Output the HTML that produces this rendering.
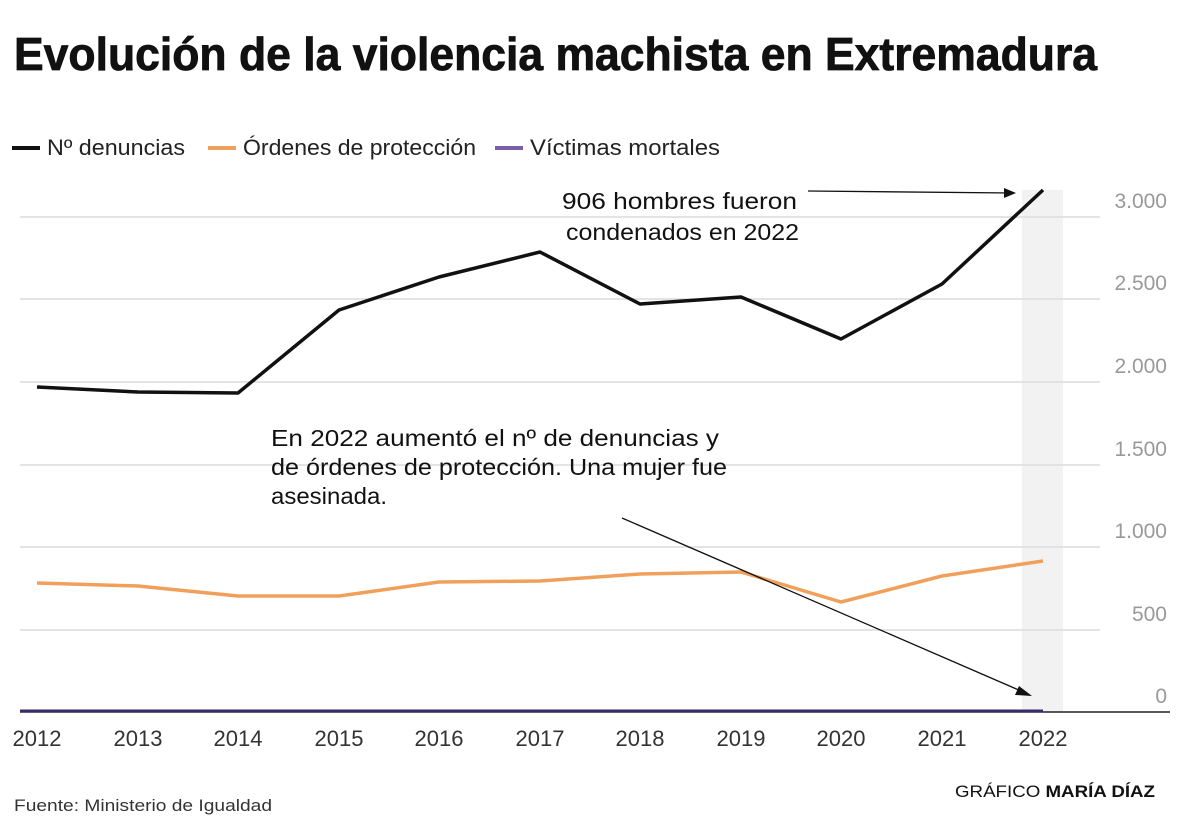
<!DOCTYPE html>
<html><head><meta charset="utf-8"><style>
html,body{margin:0;padding:0;background:#fff;}
svg{display:block;font-family:"Liberation Sans",sans-serif;}
</style></head><body>
<svg width="1200" height="840" viewBox="0 0 1200 840" xmlns="http://www.w3.org/2000/svg">
<rect width="1200" height="840" fill="#fff"/>
<text x="14" y="70" font-size="46" font-weight="bold" fill="#111" stroke="#111" stroke-width="0.8" textLength="1083" lengthAdjust="spacingAndGlyphs">Evolución de la violencia machista en Extremadura</text>
<!-- legend -->
<line x1="12" y1="148" x2="40" y2="148" stroke="#111" stroke-width="4"/>
<text x="47" y="155" font-size="22" fill="#222" textLength="138" lengthAdjust="spacingAndGlyphs">Nº denuncias</text>
<line x1="208" y1="148" x2="236" y2="148" stroke="#f0a05a" stroke-width="4"/>
<text x="243" y="155" font-size="22" fill="#222" textLength="233" lengthAdjust="spacingAndGlyphs">Órdenes de protección</text>
<line x1="495" y1="148" x2="523" y2="148" stroke="#7b5ea7" stroke-width="4"/>
<text x="530" y="155" font-size="22" fill="#222" textLength="190" lengthAdjust="spacingAndGlyphs">Víctimas mortales</text>
<!-- highlight band -->
<rect x="1022" y="190" width="41" height="522" fill="#f2f2f2"/>
<!-- grid -->
<g stroke="#dcdcdc" stroke-width="1.5">
<line x1="20" y1="217" x2="1100" y2="217"/>
<line x1="20" y1="299" x2="1100" y2="299"/>
<line x1="20" y1="382" x2="1100" y2="382"/>
<line x1="20" y1="465" x2="1100" y2="465"/>
<line x1="20" y1="547" x2="1100" y2="547"/>
<line x1="20" y1="630" x2="1100" y2="630"/>
</g>
<g font-size="21" fill="#999" text-anchor="end">
<text x="1167" y="208">3.000</text>
<text x="1167" y="290">2.500</text>
<text x="1167" y="373">2.000</text>
<text x="1167" y="456">1.500</text>
<text x="1167" y="538">1.000</text>
<text x="1167" y="621">500</text>
<text x="1167" y="703">0</text>
</g>
<line x1="20" y1="712" x2="1170" y2="712" stroke="#222" stroke-width="1.5"/>
<line x1="20" y1="711" x2="1043" y2="711" stroke="#3a2a6a" stroke-width="3"/>
<polyline fill="none" stroke="#f0a05a" stroke-width="3.5" stroke-linejoin="round" points="37,583 138,586 238,596 339,596 439,582 540,581 640,574 741,572 841,602 942,576 1043,561"/>
<polyline fill="none" stroke="#111" stroke-width="3.5" stroke-linejoin="round" points="37,387 138,392 238,393 339,310 439,277 540,252 640,304 741,297 841,339 942,284 1043,190"/>
<g font-size="22" fill="#333" text-anchor="middle">
<text x="37" y="746">2012</text><text x="138" y="746">2013</text><text x="238" y="746">2014</text><text x="339" y="746">2015</text><text x="439" y="746">2016</text><text x="540" y="746">2017</text><text x="640" y="746">2018</text><text x="741" y="746">2019</text><text x="841" y="746">2020</text><text x="942" y="746">2021</text><text x="1043" y="746">2022</text>
</g>
<!-- annotations -->
<g font-size="23" fill="#111">
<text x="562" y="209" textLength="235" lengthAdjust="spacingAndGlyphs">906 hombres fueron</text>
<text x="566" y="240" textLength="233" lengthAdjust="spacingAndGlyphs">condenados en 2022</text>
<text x="271" y="446" textLength="448" lengthAdjust="spacingAndGlyphs">En 2022 aumentó el nº de denuncias y</text>
<text x="271" y="475" textLength="456" lengthAdjust="spacingAndGlyphs">de órdenes de protección. Una mujer fue</text>
<text x="271" y="504" textLength="116" lengthAdjust="spacingAndGlyphs">asesinada.</text>
</g>
<line x1="808" y1="191" x2="1012" y2="193" stroke="#111" stroke-width="1.3"/>
<polygon points="1016,193 1004,188 1004,198" fill="#111"/>
<line x1="622" y1="518" x2="1028" y2="694" stroke="#111" stroke-width="1.3"/>
<polygon points="1032,696 1019,686 1015,695" fill="#111"/>
<text x="14" y="811" font-size="17" fill="#333" textLength="258" lengthAdjust="spacingAndGlyphs">Fuente: Ministerio de Igualdad</text>
<text x="955" y="797" font-size="17" fill="#111" textLength="200" lengthAdjust="spacingAndGlyphs">GRÁFICO <tspan font-weight="bold">MARÍA DÍAZ</tspan></text>
</svg>
</body></html>
